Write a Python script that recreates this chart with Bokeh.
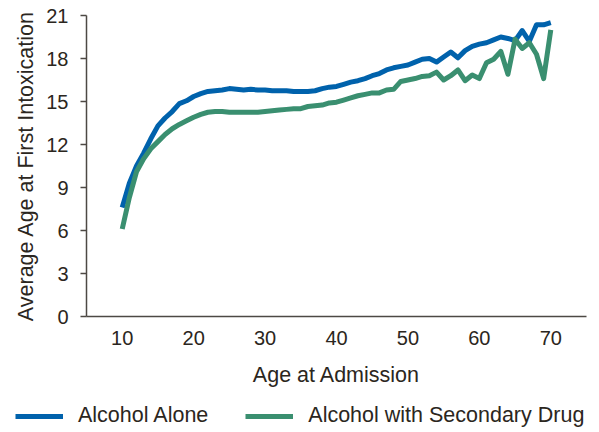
from bokeh.plotting import figure
from bokeh.layouts import column
from bokeh.models import Legend, LegendItem, Range1d, FixedTicker, ColumnDataSource
from bokeh.embed import file_html
from bokeh.resources import INLINE

ages = list(range(10, 71))
alcohol_alone = [
    7.6, 9.3, 10.5, 11.4, 12.4, 13.3, 13.85, 14.3, 14.85, 15.05,
    15.35, 15.55, 15.7, 15.75, 15.8, 15.9, 15.85, 15.8, 15.85, 15.8,
    15.8, 15.75, 15.75, 15.75, 15.7, 15.7, 15.7, 15.75, 15.9, 16.0,
    16.05, 16.2, 16.35, 16.45, 16.6, 16.8, 16.95, 17.2, 17.35, 17.45,
    17.55, 17.75, 17.95, 18.0, 17.75, 18.1, 18.45, 18.05, 18.55, 18.85,
    19.0, 19.1, 19.3, 19.5, 19.4, 19.25, 19.95, 19.2, 20.35, 20.35,
    20.5,
]
alcohol_with_drug = [
    6.1, 8.3, 10.1, 11.0, 11.7, 12.2, 12.7, 13.1, 13.4, 13.65,
    13.9, 14.1, 14.25, 14.3, 14.3, 14.25, 14.25, 14.25, 14.25, 14.25,
    14.3, 14.35, 14.4, 14.45, 14.5, 14.5, 14.65, 14.7, 14.75, 14.9,
    14.95, 15.1, 15.25, 15.4, 15.5, 15.6, 15.6, 15.8, 15.85, 16.4,
    16.5, 16.6, 16.75, 16.8, 17.05, 16.5, 16.8, 17.2, 16.45, 16.85,
    16.6, 17.7, 17.95, 18.5, 16.9, 19.35, 18.7, 19.1, 18.3, 16.6,
    20.0,
]
x_ticks = [10, 20, 30, 40, 50, 60, 70]
y_ticks = [0, 3, 6, 9, 12, 15, 18, 21]
series_names = ["Alcohol Alone", "Alcohol with Secondary Drug"]

FONT = "Liberation Sans"
TEXT = "#2b2620"
AXIS = "#4d4944"
BLUE = "#0062AC"
GREEN = "#3A8F70"

src = ColumnDataSource(dict(age=ages, a=alcohol_alone, b=alcohol_with_drug))

p = figure(width=599, height=390, output_backend="svg", toolbar_location=None,
           x_range=Range1d(5, 75), y_range=Range1d(0, 21),
           min_border_left=86, min_border_right=13, min_border_top=15, min_border_bottom=74)
p.outline_line_color = None
p.xgrid.visible = False
p.ygrid.visible = False
p.frame_align = False

p.line("age", "a", source=src, line_color=BLUE, line_width=5, line_join="round")
p.line("age", "b", source=src, line_color=GREEN, line_width=5, line_join="round")

for ax in (p.xaxis[0], p.yaxis[0]):
    ax.axis_line_color = AXIS
    ax.axis_line_width = 1.5
    ax.major_tick_line_color = AXIS
    ax.major_tick_line_width = 1.5
    ax.minor_tick_line_color = None
    ax.major_label_text_font = FONT
    ax.major_label_text_font_size = "20px"
    ax.major_label_text_color = TEXT
    ax.axis_label_text_font = FONT
    ax.axis_label_text_font_size = "21.5px"
    ax.axis_label_text_font_style = "normal"
    ax.axis_label_text_color = TEXT

p.xaxis.ticker = FixedTicker(ticks=x_ticks)
p.xaxis.major_tick_out = 0
p.xaxis.major_tick_in = 0
p.xaxis.major_label_standoff = 14
p.xaxis.axis_label = "Age at Admission"
p.xaxis.axis_label_standoff = 15

p.yaxis.ticker = FixedTicker(ticks=y_ticks)
p.yaxis.major_tick_out = 6
p.yaxis.major_tick_in = 0
p.yaxis.major_label_standoff = 12
p.yaxis.axis_label = "Average Age at First Intoxication"
p.yaxis.axis_label_standoff = 5

# legend strip below the chart
lg = figure(width=599, height=42, output_backend="svg", toolbar_location=None,
            x_axis_type=None, y_axis_type=None, x_range=Range1d(0, 1), y_range=Range1d(0, 1),
            min_border=0, min_border_left=0, min_border_right=0,
            min_border_top=0, min_border_bottom=0)
lg.outline_line_color = None
lg.xgrid.visible = False
lg.ygrid.visible = False
lg.frame_align = False
d1 = lg.line(x=[5, 6], y=[5, 5], line_color=BLUE, line_width=5)
d2 = lg.line(x=[5, 6], y=[5, 5], line_color=GREEN, line_width=5)
legend = Legend(items=[LegendItem(label=series_names[0], renderers=[d1]),
                       LegendItem(label=series_names[1], renderers=[d2])],
                orientation="horizontal", location=(15, 4),
                glyph_width=48, glyph_height=20, label_standoff=15, spacing=37,
                padding=0, margin=0, border_line_alpha=0, background_fill_alpha=0,
                label_text_font=FONT, label_text_font_size="21.5px", label_text_color=TEXT)
lg.add_layout(legend, "center")

layout = column(p, lg, spacing=0)
open("out.html", "w").write(file_html(layout, INLINE))
